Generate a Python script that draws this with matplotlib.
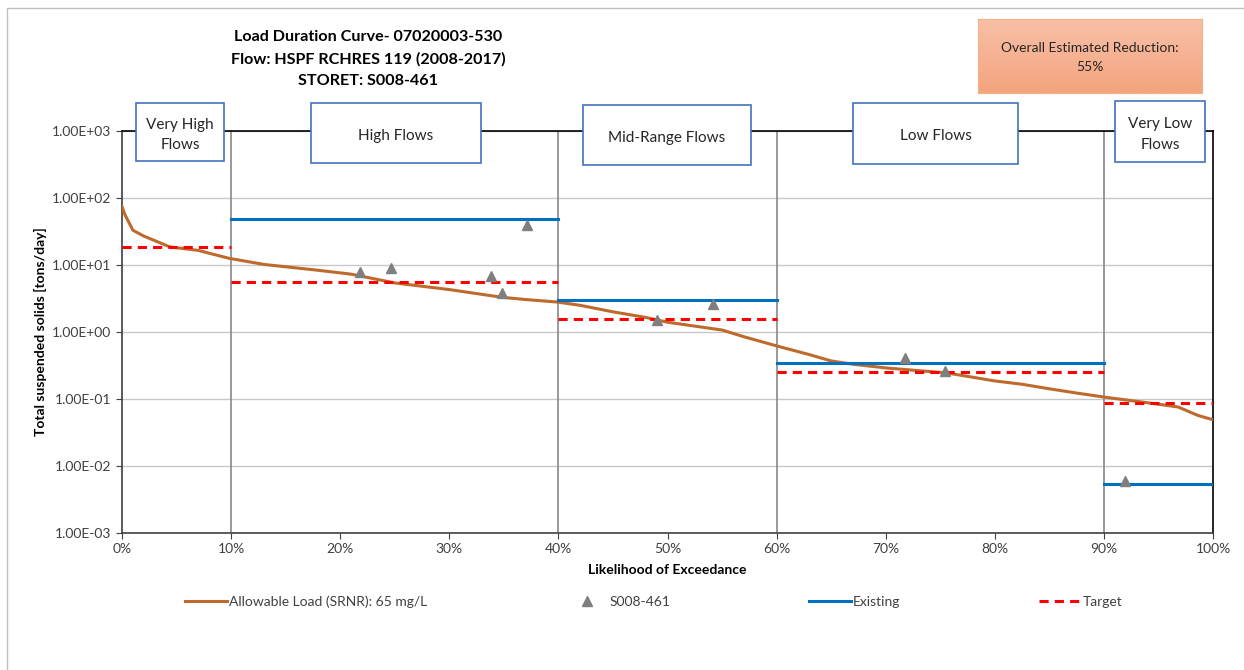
import numpy as np
import matplotlib.pyplot as plt
from matplotlib.patches import Rectangle
from matplotlib.ticker import FixedLocator, FuncFormatter
from matplotlib.lines import Line2D

plt.rcParams['font.family'] = ['Lato', 'DejaVu Sans']

# allowable load curve (percent exceedance, tons/day)
curve_x = [0, 0.3, 1, 2, 4.4, 7, 9.8, 13, 17.8, 21, 25, 30, 34.8, 37, 39.9, 42,
           45, 48, 50, 55, 57, 60, 63, 65, 67, 70.1, 75.6, 80, 82.5, 85, 87.6,
           90, 94.2, 96.8, 98.6, 100]
curve_y = [74, 55, 33, 27, 18.6, 16.5, 12.6, 10.2, 8.4, 7.3, 5.4, 4.3, 3.3, 3.05,
           2.8, 2.5, 2.0, 1.65, 1.4, 1.07, 0.85, 0.62, 0.46, 0.37, 0.33, 0.29,
           0.245, 0.186, 0.166, 0.142, 0.122, 0.107, 0.087, 0.076, 0.057, 0.049]

# sample points S008-461
obs_x = [21.8, 24.7, 33.8, 34.8, 37.1, 49.0, 54.2, 71.8, 75.4, 91.9]
obs_y = [7.9, 9.1, 6.9, 3.8, 40, 1.5, 2.6, 0.41, 0.26, 0.006]

# flow zones
zone_edges = [0, 10, 40, 60, 90, 100]
zone_names = ['Very High\nFlows', 'High Flows', 'Mid-Range Flows', 'Low Flows', 'Very Low\nFlows']
existing = [None, 48, 3.0, 0.35, 0.0053]
target = [18.6, 5.6, 1.55, 0.25, 0.088]

fig = plt.figure(figsize=(12.44, 6.70), dpi=100)
W, H = 1244, 670

# outer chart border
fig.patches.append(Rectangle((7 / W, -0.1), 1.2, 1 - 8 / H + 0.1, transform=fig.transFigure,
                             fill=False, edgecolor='#BFBFBF', lw=1))

ax = fig.add_axes([122 / W, 1 - 533 / H, (1213 - 122) / W, (533 - 131) / H])
ax.set_yscale('log')
ax.set_xlim(0, 100)
ax.set_ylim(1e-3, 1e3)

ax.yaxis.set_major_locator(FixedLocator([10.0 ** k for k in range(-3, 4)]))
ax.yaxis.set_minor_locator(FixedLocator([]))
ax.yaxis.set_major_formatter(FuncFormatter(lambda v, p: '%.2E' % v))
ax.set_xticks(range(0, 101, 10))
ax.xaxis.set_major_formatter(FuncFormatter(lambda v, p: '%d%%' % v))
ax.tick_params(labelsize=10, colors='#404040', length=4, width=0.8, labelcolor='#404040')
ax.grid(axis='y', color='#C8C8C8', lw=1)
ax.set_axisbelow(True)
for s in ['left', 'bottom']:
    ax.spines[s].set_color('#404040')
    ax.spines[s].set_linewidth(1.2)
for s in ['top', 'right']:
    ax.spines[s].set_color('black')
    ax.spines[s].set_linewidth(1.2)

for e in zone_edges[1:-1]:
    ax.axvline(e, color='#888888', lw=1.2, zorder=1)

ax.plot(curve_x, curve_y, color='#BE6A2C', lw=2.2, zorder=3)
for i in range(len(zone_names)):
    x0, x1 = zone_edges[i], zone_edges[i + 1]
    if existing[i] is not None:
        ax.plot([x0, x1], [existing[i]] * 2, color='#0070C0', lw=2.2, zorder=4)
    ax.plot([x0, x1], [target[i]] * 2, color='#FF0000', lw=2.2, ls=(0, (3, 2)), zorder=4)
ax.plot(obs_x, obs_y, ls='none', marker='^', ms=6.5, color='#7F7F7F', zorder=5)

ax.set_ylabel('Total suspended solids [tons/day]', fontsize=10, fontweight='bold', labelpad=4)
ax.set_xlabel('Likelihood of Exceedance', fontsize=10, fontweight='bold', labelpad=6)
ax.xaxis.label.set_color('black')

# zone label boxes (figure pixels: x0, y0, x1, y1)
zone_boxes = [(136, 103, 224, 161), (311, 103, 481, 163), (583, 105, 751, 165),
              (853, 103, 1018, 164), (1115, 101, 1205, 162)]
for (x0, y0, x1, y1), name in zip(zone_boxes, zone_names):
    fig.patches.append(Rectangle((x0 / W, 1 - y1 / H), (x1 - x0) / W, (y1 - y0) / H,
                                 transform=fig.transFigure, facecolor='white',
                                 edgecolor='#4472C4', lw=1.2, zorder=10))
    fig.text((x0 + x1) / 2 / W, 1 - ((y0 + y1) / 2 + 3) / H, name, ha='center', va='center',
             fontsize=11, color='#262626', linespacing=1.55, zorder=11)

# title
fig.text(368 / W, 1 - 59 / H,
         'Load Duration Curve- 07020003-530\nFlow: HSPF RCHRES 119 (2008-2017)\nSTORET: S008-461',
         ha='center', va='center', fontsize=11.6, fontweight='bold', linespacing=1.7)

# overall reduction box with gradient
bx = fig.add_axes([978 / W, 1 - 93 / H, (1202 - 978) / W, (93 - 19) / H])
grad = np.linspace(0, 1, 64).reshape(-1, 1)
c_top = np.array([248, 192, 167]) / 255
c_bot = np.array([244, 164, 126]) / 255
img = c_top[None, None, :] * (1 - grad[:, :, None]) + c_bot[None, None, :] * grad[:, :, None]
bx.imshow(img, aspect='auto', extent=[0, 1, 0, 1])
bx.set_xticks([])
bx.set_yticks([])
for s in bx.spines.values():
    s.set_color('#F4B183')
bx.text(0.5, 0.48, 'Overall Estimated Reduction:\n55%', ha='center', va='center',
        fontsize=10, color='#262626', linespacing=1.65, transform=bx.transAxes)

handles = [Line2D([], [], color='#BE6A2C', lw=2.2),
           Line2D([], [], ls='none', marker='^', ms=6.5, color='#7F7F7F'),
           Line2D([], [], color='#0070C0', lw=2.2),
           Line2D([], [], color='#FF0000', lw=2.2, ls=(0, (3, 2)))]
labels = ['Allowable Load (SRNR): 65 mg/L', 'S008-461', 'Existing', 'Target']
fig.legend(handles, labels, loc='center', bbox_to_anchor=(654 / W, 1 - 602 / H), ncol=4,
           frameon=False, fontsize=10, handlelength=3, handletextpad=0.15,
           columnspacing=10, labelcolor='#404040')

fig.savefig('out.png', dpi=100)
